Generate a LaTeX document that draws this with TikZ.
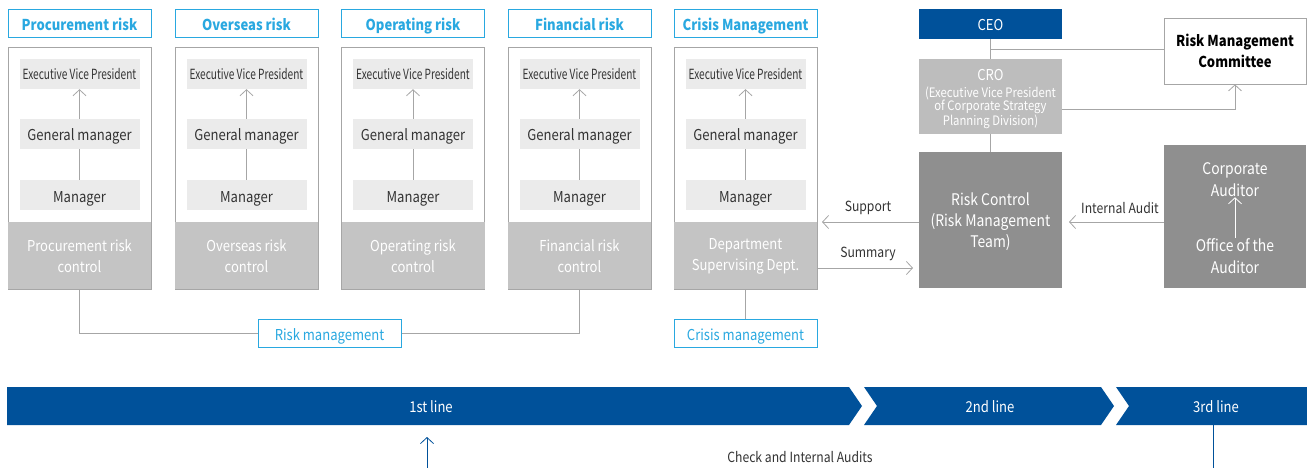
\documentclass[tikz,border=0pt]{standalone}
\usepackage{fontspec}
\setmainfont{Noto Sans CJK KR}[FakeStretch=0.87]
\usetikzlibrary{arrows.meta,calc}
\definecolor{skyb}{HTML}{29A8E0}
\definecolor{navy}{HTML}{00519A}
\definecolor{lgray}{HTML}{EBEBEB}
\definecolor{mgray}{HTML}{C4C4C4}
\definecolor{crogray}{HTML}{BDBDBD}
\definecolor{dgray}{HTML}{8F8F8F}
\definecolor{lineg}{HTML}{A6A6A6}
\definecolor{txt}{HTML}{333333}
\begin{document}
\begin{tikzpicture}[x=1pt,y=-1pt,
 hdr/.style={draw=skyb,line width=1pt,fill=white,text=skyb,minimum width=143pt,minimum height=28pt,inner sep=0pt,text height=14pt,text depth=0pt,font=\fontsize{15}{18}\selectfont\bfseries},
 colbox/.style={draw=lineg,line width=0.8pt,fill=white,minimum width=143pt,minimum height=242pt,inner sep=0pt},
 ctrl/.style={fill=mgray,text=white,minimum width=143pt,minimum height=67pt,align=center,inner sep=0pt,font=\fontsize{15}{21}\selectfont},
 role/.style={fill=lgray,text=txt,minimum width=120pt,minimum height=30pt,inner sep=0pt,font=\fontsize{15}{18}\selectfont},
 rtxt/.style={text=txt,inner sep=0pt,text height=13pt,text depth=1pt,font=\fontsize{15}{18}\selectfont},
 conn/.style={draw=lineg,line width=0.8pt},
 arr/.style={conn,-{Straight Barb[length=6pt,width=13pt]}},
 lbl/.style={text=txt,font=\fontsize{14}{16}\selectfont,inner sep=0pt},
 band/.style={fill=navy},
 bandlbl/.style={text=white,font=\fontsize{15}{18}\selectfont,inner sep=0pt},
 ]
\useasboundingbox (0,0) rectangle (1307,468);

\foreach \i/\cx/\h/\c in {1/79.5/{Procurement risk}/{Procurement risk\\control},
  2/246.5/{Overseas risk}/{Overseas risk\\control},
  3/413/{Operating risk}/{Operating risk\\control},
  4/579.5/{Financial risk}/{Financial risk\\control},
  5/745.5/{Crisis Management}/{Department\\Supervising Dept.}} {
 \node[hdr] (h\i) at (\cx,24) {\h};
 \node[colbox] (c\i) at (\cx,168) {};
 \node[fill=mgray,minimum width=143pt,minimum height=67pt,inner sep=0pt] (k\i) at (\cx,255.5) {};
 \node[ctrl,fill=none] (kt\i) at (\cx,256) {\c};
 \node[role] (e\i) at (\cx,74) {};
 \node[rtxt,font=\fontsize{14}{16}\selectfont] (et\i) at (\cx,74) {\scalebox{0.83}[1]{Executive Vice President}};
 \node[role] (g\i) at (\cx,134) {};
 \node[rtxt] (gt\i) at (\cx,135) {General manager};
 \node[role] (m\i) at (\cx,195) {};
 \node[rtxt] (mt\i) at (\cx,196) {Manager};
 \draw[arr] (g\i) -- (e\i);
 \draw[conn] (m\i) -- (g\i);
}

% risk management
\node[hdr,font=\fontsize{15}{18}\selectfont] (rm) at (329.5,333.5) {Risk management};
\draw[conn] (c1.south) |- (rm.west);
\draw[conn] (rm.east) -| (c4.south);
\node[hdr,font=\fontsize{15}{18}\selectfont] (cm) at (745.5,333.5) {Crisis management};
\draw[conn] (c5.south) -- (cm.north);

% CEO / CRO
\node[fill=navy,text=white,minimum width=143pt,minimum height=30pt,inner sep=0pt,text height=14pt,text depth=0pt,font=\fontsize{15}{18}\selectfont] (ceo) at (990.5,24) {CEO};
\node[fill=crogray,minimum width=143pt,minimum height=75pt,inner sep=0pt] (cro) at (990.5,96.5) {};
\node[text=white,inner sep=0pt,align=center,font=\fontsize{15}{18}\selectfont] (crot) at (990.5,75) {CRO};
\node[text=white,inner sep=0pt,align=center,font=\fontsize{13}{13.5}\selectfont] (crod) at (990.5,108)
  {(Executive Vice President\\of Corporate Strategy\\Planning Division)};
\node[draw=lineg,line width=0.8pt,fill=white,minimum width=142pt,minimum height=66pt,inner sep=0pt,align=center,text=black,font=\fontsize{15}{21}\selectfont\bfseries] (rmc) at (1235,51) {Risk Management\\Committee};
\node[fill=dgray,minimum width=143pt,minimum height=136pt,inner sep=0pt] (rc) at (990.5,220) {};
\node[text=white,align=center,inner sep=0pt,font=\fontsize{16}{21}\selectfont] (rct) at (990.5,222) {Risk Control\\(Risk Management\\Team)};
\node[fill=dgray,minimum width=142pt,minimum height=143pt,inner sep=0pt] (ca) at (1235,216.5) {};
\node[text=white,align=center,inner sep=0pt,font=\fontsize{16}{22}\selectfont] (cat) at (1235,180) {Corporate\\Auditor};
\node[text=white,align=center,inner sep=0pt,font=\fontsize{16}{22}\selectfont] (oa) at (1235,256) {Office of the\\Auditor};
\draw[draw=white,line width=0.8pt,-{Straight Barb[length=6pt,width=13pt]}] (oa.north) -- (cat.south);

\coordinate (j1) at (990.5,49);
\draw[conn] (ceo.south) -- (cro.north);
\draw[conn] (j1) -- (j1 -| rmc.west);
\draw[conn] (cro.south) -- (rc.north);
\coordinate (cro1) at (1062,109);
\draw[arr] (cro1) -| (rmc.south);

% support / summary / internal audit
\coordinate (s1) at (919,222);
\coordinate (s2) at (822,222);
\draw[arr] (s1) -- (s2);
\node[lbl] (sup) at (868,208) {Support};
\coordinate (u1) at (817,268);
\coordinate (u2) at (913,268);
\draw[arr] (u1) -- (u2);
\node[lbl] (sum) at (868,254) {Summary};
\coordinate (i1) at (1164,222);
\coordinate (i2) at (1069,222);
\draw[arr] (i1) -- (i2);
\node[lbl] (ia) at (1120,208) {Internal Audit};

% band
\fill[band] (7,387) -- (849,387) -- (862,406) -- (849,425) -- (7,425) -- cycle;
\fill[band] (864,387) -- (1101,387) -- (1114,406) -- (1101,425) -- (864,425) -- (877,406) -- cycle;
\fill[band] (1116,387) -- (1307,387) -- (1307,425) -- (1116,425) -- (1129,406) -- cycle;
\node[bandlbl] (l1) at (431,407) {1st line};
\node[bandlbl] (l2) at (990,407) {2nd line};
\node[bandlbl] (l3) at (1216,407) {3rd line};

\coordinate (b1) at (427,468);
\coordinate (b2) at (427,437);
\draw[draw=navy,line width=0.8pt,-{Straight Barb[length=6pt,width=13pt]}] (b1) -- (b2);
\coordinate (t1) at (1213,425);
\coordinate (t2) at (1213,468);
\draw[draw=navy,line width=0.8pt] (t1) -- (t2);
\node[lbl] (chk) at (800,457) {Check and Internal Audits};
\end{tikzpicture}
\end{document}
